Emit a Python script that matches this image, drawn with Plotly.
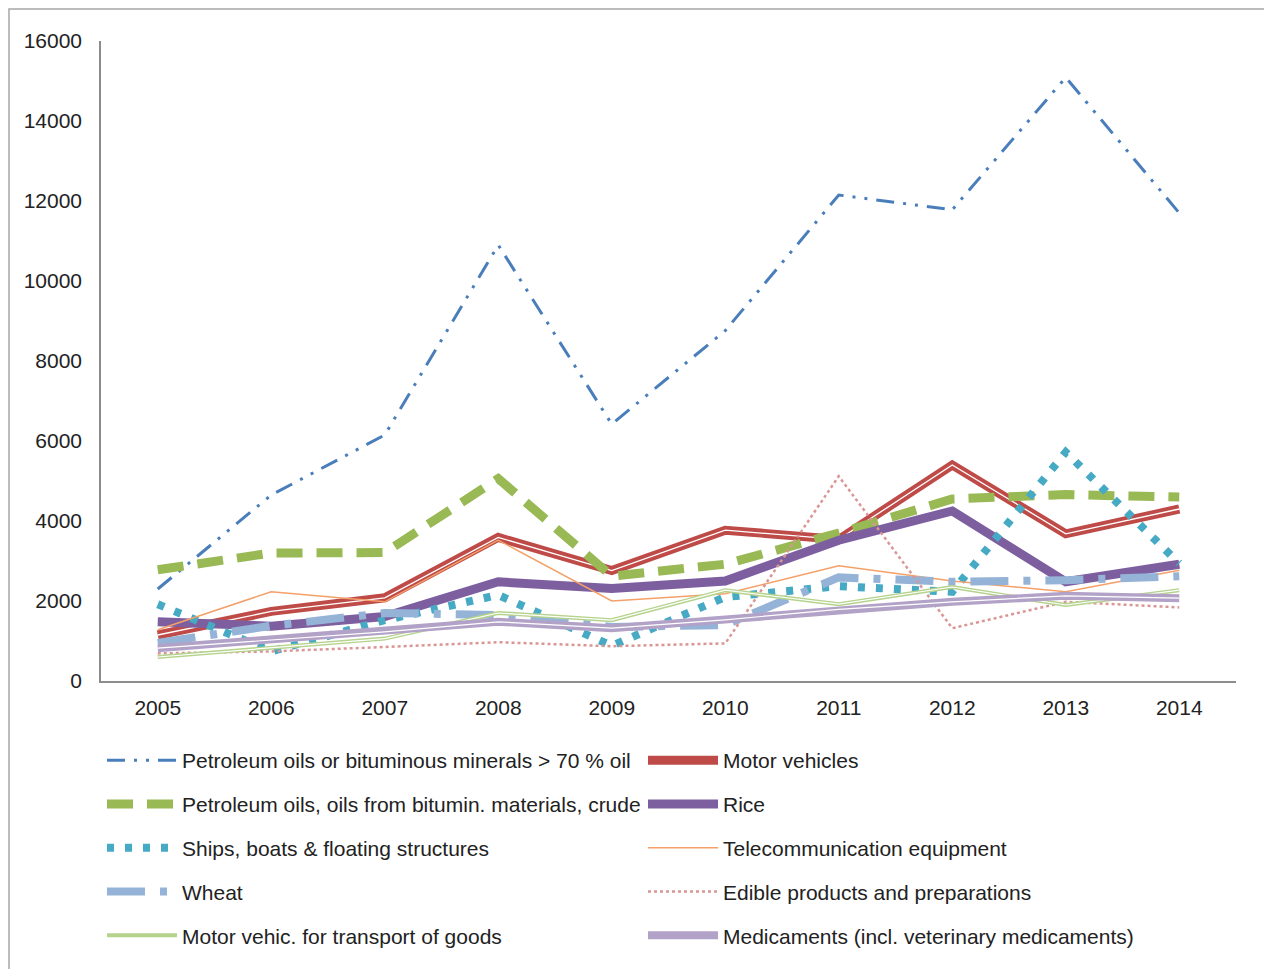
import plotly.graph_objects as go

years = [2005, 2006, 2007, 2008, 2009, 2010, 2011, 2012, 2013, 2014]
tick_labels = [str(y) for y in years]
y_ticks = list(range(0, 16001, 2000))
y_tick_labels = [str(v) for v in y_ticks]

petroleum_refined = [2300, 4650, 6150, 10900, 6420, 8760, 12150, 11780, 15090, 11700]
motor_vehicles = [1150, 1740, 2080, 3590, 2760, 3770, 3540, 5400, 3680, 4300]
petroleum_crude = [2780, 3200, 3210, 5060, 2620, 2920, 3700, 4550, 4660, 4600]
rice = [1480, 1370, 1610, 2480, 2310, 2500, 3520, 4250, 2480, 2920]
ships = [1920, 740, 1520, 2150, 880, 2100, 2370, 2230, 5720, 2940]
telecom = [1280, 2230, 1980, 3520, 2000, 2180, 2880, 2500, 2230, 2770]
wheat = [950, 1380, 1700, 1650, 1350, 1400, 2590, 2480, 2520, 2620]
edible = [690, 740, 850, 970, 870, 940, 5120, 1320, 1980, 1840]
goods_vehicles = [600, 830, 1060, 1700, 1520, 2270, 1920, 2350, 1900, 2270]
medicaments = [820, 1030, 1230, 1480, 1320, 1530, 1790, 1980, 2130, 2070]

names = [
    "Petroleum oils or bituminous minerals > 70 % oil",
    "Motor vehicles",
    "Petroleum oils, oils from bitumin. materials, crude",
    "Rice",
    "Ships, boats & floating structures",
    "Telecommunication equipment",
    "Wheat",
    "Edible products and preparations",
    "Motor vehic. for transport of goods",
    "Medicaments (incl. veterinary medicaments)",
]

FONT = "Arial, Liberation Sans, sans-serif"
fig = go.Figure()

def add(y, name, color, width, dash, legend, inner=None):
    fig.add_trace(go.Scatter(
        x=years, y=y, name=name, mode="lines",
        line=dict(color=color, width=width, dash=dash),
        legend=legend, legendgroup=name, hoverinfo="skip"))
    if inner:
        fig.add_trace(go.Scatter(
            x=years, y=y, mode="lines", showlegend=False,
            line=dict(color="white", width=inner), hoverinfo="skip"))

add(petroleum_refined, names[0], "#4a7ebb", 3, "18px,9px,3px,9px,3px,9px", "legend")
add(motor_vehicles, names[1], "#be4b48", 9, "solid", "legend2", inner=1.3)
add(petroleum_crude, names[2], "#98b954", 9, "26px,14px", "legend")
add(rice, names[3], "#7d5fa0", 9, "solid", "legend2")
add(ships, names[4], "#46aac5", 8, "7px,11px", "legend")
add(telecom, names[5], "#f4a068", 1.5, "solid", "legend2")
add(wheat, names[6], "#95b3d7", 8, "38px,15px,7px,15px", "legend")
add(edible, names[7], "#d99694", 2.5, "dot", "legend2")
add(goods_vehicles, names[8], "#b5d38c", 4, "solid", "legend", inner=1.2)
add(medicaments, names[9], "#b3a2c7", 8, "solid", "legend2", inner=1.2)

# page has an 8px body margin; figure coordinates = reference coordinates - 8
W, H = 1264, 961
L, T = 93, 33
R = W - 1228
B = H - 673
pw, ph = W - L - R, H - T - B

legend_common = dict(
    orientation="v", xref="container", yref="container",
    xanchor="left", yanchor="top", itemwidth=70, tracegroupgap=13.5,
    font=dict(family=FONT, size=21, color="#222222"),
    bgcolor="rgba(0,0,0,0)", itemclick=False, itemdoubleclick=False,
)

fig.update_layout(
    width=W, height=H,
    margin=dict(l=L, r=R, t=T, b=B, autoexpand=False),
    paper_bgcolor="white", plot_bgcolor="white",
    font=dict(family=FONT, size=21, color="#222222"),
    legend=dict(x=94 / W, y=1 - 732 / H, **legend_common),
    legend2=dict(x=635 / W, y=1 - 732 / H, **legend_common),
    xaxis=dict(
        range=[2004.5, 2014.5], tickmode="array", tickvals=years, ticktext=tick_labels,
        showline=True, linecolor="#8c8c8c", linewidth=1.5, showgrid=False,
        zeroline=False, ticks="", ticklabelstandoff=7, automargin=False,
        tickfont=dict(family=FONT, size=21, color="#222222"),
    ),
    yaxis=dict(
        range=[0, 16000], tickmode="array", tickvals=y_ticks, ticktext=y_tick_labels,
        showline=True, linecolor="#8c8c8c", linewidth=1.5, showgrid=False,
        zeroline=False, ticks="", ticklabelstandoff=13, automargin=False,
        tickfont=dict(family=FONT, size=21, color="#222222"),
    ),
    shapes=[dict(
        type="rect", xref="paper", yref="paper",
        x0=(1 - L) / pw, x1=(1261 - L) / pw,
        y0=(T + ph - 970) / ph, y1=(T + ph - 1) / ph,
        line=dict(color="#a6a6a6", width=1.5), fillcolor="rgba(0,0,0,0)", layer="below",
    )],
)

fig.write_html("out.html")
